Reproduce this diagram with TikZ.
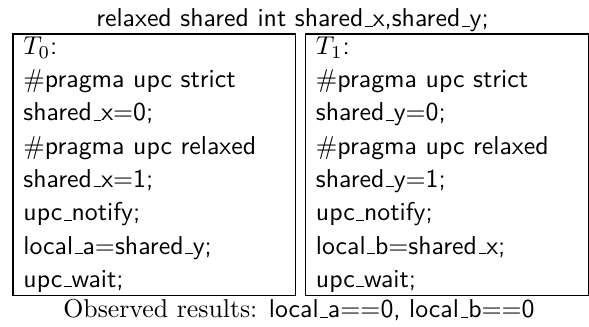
\documentclass[tikz,border=0pt]{standalone}
\usepackage{tikz}
\newcommand{\usc}{\leavevmode\kern.06em\vbox{\hrule width.3em}}
\tikzset{
  threadbox/.style={draw,line width=0.5pt,anchor=north west,align=left,
    text width=101.5pt,inner xsep=4pt,inner ysep=1pt,text depth=92.4pt,
    font=\sffamily\fontsize{10}{12.9}\selectfont},
}
\begin{document}
\begin{tikzpicture}[x=0.3876pt,y=-0.3876pt]
\useasboundingbox (0,0) rectangle (589,327);
\node (decl) at (292.5,27) [anchor=base,font=\sffamily] {relaxed shared int shared\usc x,shared\usc y;};
\node (t0) at (12.5,33.5) [threadbox] {$T_0$:\\
  $\#$pragma upc strict\\
  shared\usc x$=$0;\\
  $\#$pragma upc relaxed\\
  shared\usc x$=$1;\\
  upc\usc notify;\\
  local\usc a$=$shared\usc y;\\
  upc\usc wait;};
\node (t1) at (305,33.5) [threadbox] {$T_1$:\\
  $\#$pragma upc strict\\
  shared\usc y$=$0;\\
  $\#$pragma upc relaxed\\
  shared\usc y$=$1;\\
  upc\usc notify;\\
  local\usc b$=$shared\usc x;\\
  upc\usc wait;};
\node (res) at (299,318) [anchor=base] {Observed results: \textsf{local\usc a$==$0, local\usc b$==$0}};
\end{tikzpicture}
\end{document}
